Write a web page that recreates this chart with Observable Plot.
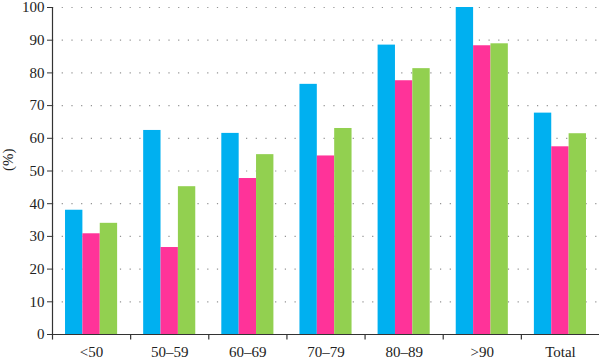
<!DOCTYPE html>
<html>
<head>
<meta charset="utf-8">
<script src="https://cdn.jsdelivr.net/npm/d3@7"></script>
<script src="https://cdn.jsdelivr.net/npm/@observablehq/plot@0.6"></script>
<style>
  html, body { margin: 0; padding: 0; background: #fff; }
  svg { display: block; }
</style>
</head>
<body>
<div id="chart"></div>
<script>
const categories = ["<50", "50–59", "60–69", "70–79", "80–89", ">90", "Total"];
const seriesNames = ["Series 1", "Series 2", "Series 3"];
const series1 = [38.0, 62.4, 61.5, 76.5, 88.5, 100.0, 67.7];
const series2 = [30.8, 26.6, 47.7, 54.6, 77.6, 88.3, 57.4];
const series3 = [34.0, 45.2, 55.0, 63.0, 81.3, 88.9, 61.4];
const colors = ["#00b0f0", "#ff3399", "#92d050"];
const yTicks = d3.range(0, 101, 10);

const allSeries = [series1, series2, series3];
const pad = 1 / 6, bw = 2 / 9;
const data = [];
categories.forEach((c, i) => {
  allSeries.forEach((vals, j) => {
    data.push({cat: c, series: seriesNames[j], value: vals[i], x1: i + pad + j * bw, x2: i + pad + (j + 1) * bw});
  });
});

const font = "'Liberation Serif', 'DejaVu Serif', serif";

const chart = Plot.plot({
  width: 600,
  height: 361,
  marginLeft: 52,
  marginRight: 1,
  marginTop: 7,
  marginBottom: 27,
  style: {fontFamily: font, fontSize: "15px", color: "#222", background: "#fff"},
  x: {type: "linear", domain: [0, categories.length], axis: null},
  y: {type: "linear", domain: [0, 100], axis: null},
  color: {domain: seriesNames, range: colors},
  marks: [
    Plot.ruleY(yTicks.filter(d => d > 0), {y: d => d, stroke: "#808080", strokeWidth: 1.2, strokeDasharray: "1.2,8.5", strokeOpacity: 0.85}),
    Plot.rectY(data, {x1: "x1", x2: "x2", y1: 0, y2: "value", fill: "series"}),
    Plot.ruleY([0], {stroke: "#333", strokeWidth: 1.2}),
    Plot.ruleX([0], {y1: 0, y2: 100, stroke: "#333", strokeWidth: 1.2}),
    Plot.ruleX(d3.range(0, categories.length), {x: d => d, y1: 0, y2: -1.7, stroke: "#333", strokeWidth: 1.2, clip: false}),
    Plot.axisY({ticks: yTicks, tickSize: 5, tickPadding: 3, stroke: "#333", fontSize: 15, fill: "#222", label: null}),
    Plot.text(categories, {x: (d, i) => i + 0.5, y: 0, dy: 18, fill: "#222", fontSize: 15}),
    Plot.text(["(%)"], {frameAnchor: "left", y: 50, dx: -44, rotate: -90, fill: "#222", fontSize: 15})
  ]
});
document.getElementById("chart").appendChild(chart);
</script>
</body>
</html>
